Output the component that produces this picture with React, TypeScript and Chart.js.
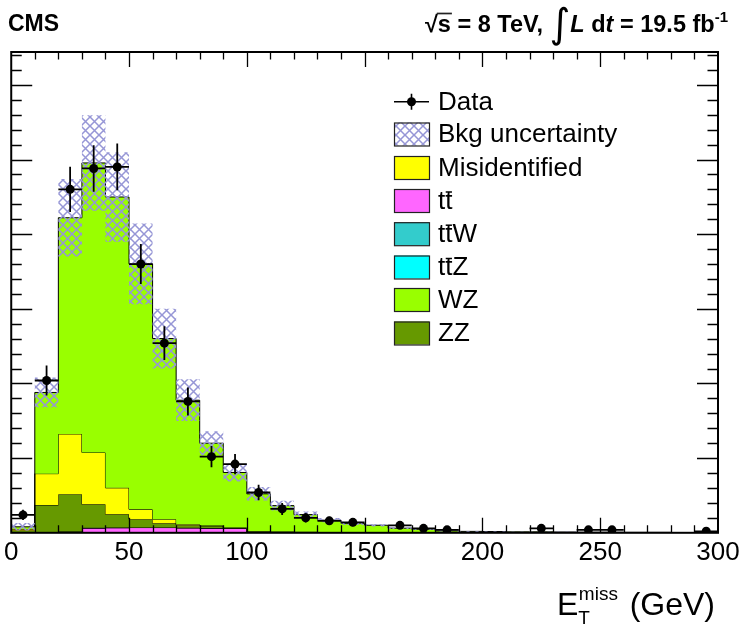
import React, { useEffect, useRef } from 'react';
import { Chart, registerables } from 'chart.js';

Chart.register(...registerables);

// ---- data (Events / 10 GeV) ----
const binLow = [0, 10, 20, 30, 40, 50, 60, 70, 80, 90, 100, 110, 120, 130, 140, 150, 160, 170, 180, 190, 200, 210, 220, 230, 240, 250, 260, 270, 280, 290];
const binWidth = 10;
const xTickLabels = [0, 50, 100, 150, 200, 250, 300];

const dataCounts = [12, 102, 230, 244, 245, 180, 127, 88, 51, 46, 27, 16, 10, 8, 7, 0, 5, 3, 2, 0, 0, 0, 3, 0, 2, 2, 0, 0, 0, 1];

const ttbar = [0, 0, 0.8, 3.2, 3.4, 3.5, 3.5, 3.3, 3.1, 3.0, 0.3, 0.2, 0.2, 0.1, 0.1, 0.1, 0.1, 0, 0, 0, 0, 0, 0, 0, 0, 0, 0, 0, 0, 0];
const ttW = [0, 0.05, 0.05, 0.05, 0.05, 0.05, 0.05, 0.05, 0.05, 0.05, 0.05, 0.05, 0.05, 0.05, 0.05, 0, 0, 0, 0, 0, 0, 0, 0, 0, 0, 0, 0, 0, 0, 0];
const ttZ = [0, 0.05, 0.05, 0.05, 0.05, 0.05, 0.05, 0.05, 0.05, 0.05, 0.05, 0.05, 0.05, 0, 0, 0, 0, 0, 0, 0, 0, 0, 0, 0, 0, 0, 0, 0, 0, 0];
const zz = [1.5, 18.5, 25.0, 15.8, 8.9, 5.5, 2.8, 1.7, 1.4, 0.2, 0.5, 0.4, 0.3, 0.2, 0.2, 0.15, 0.1, 0.1, 0.05, 0.05, 0.05, 0.03, 0.03, 0.02, 0.02, 0.02, 0.01, 0.01, 0.01, 0.01];
const misid = [1.0, 21.0, 40.3, 34.7, 17.7, 6.6, 2.7, 0.7, 0.3, 0.2, 0.2, 0.1, 0.1, 0.1, 0, 0, 0, 0, 0, 0, 0, 0, 0, 0, 0, 0, 0, 0, 0, 0];
const wz = [1.5, 54.4, 144.8, 193.9, 194.8, 164.4, 121.0, 83.0, 55.1, 36.9, 25.0, 17.4, 11.5, 8.0, 6.0, 4.8, 2.9, 2.3, 1.2, 0.9, 0.8, 0.6, 0.6, 0.5, 0.4, 0.4, 0.3, 0.3, 0.2, 0.2];
const bkgUnc = [2.5, 10, 26, 32, 30, 27, 20, 14, 8, 6, 4.5, 3.2, 2.0, 1.4, 1.1, 0.9, 0.6, 0.5, 0.3, 0.2, 0.2, 0.15, 0.15, 0.1, 0.1, 0.1, 0.1, 0.1, 0.05, 0.05];

const colors = {
  misid: '#ffff00',
  ttbar: '#ff66ff',
  ttW: '#33cccc',
  ttZ: '#00ffff',
  wz: '#99ff00',
  zz: '#669900',
  hatch: '#9696d6',
};

const FONT = '"Liberation Sans", Arial, Helvetica, sans-serif';

const addArr = (a: number[], b: number[]) => a.map((v, i) => v + b[i]);
const stepPoints = (vals: number[]) => [
  ...binLow.map((x, i) => ({ x, y: vals[i] })),
  { x: binLow[binLow.length - 1] + binWidth, y: vals[vals.length - 1] },
];

export default function App() {
  const ref = useRef<HTMLCanvasElement>(null);

  useEffect(() => {
    const canvas = ref.current!;
    const ctx0 = canvas.getContext('2d')!;

    // hatch pattern
    const P = 9;
    const pc = document.createElement('canvas');
    pc.width = P;
    pc.height = P;
    const p = pc.getContext('2d')!;
    p.strokeStyle = colors.hatch;
    p.lineWidth = 1.5;
    p.beginPath();
    p.moveTo(-1, -1); p.lineTo(P + 1, P + 1);
    p.moveTo(P + 1, -1); p.lineTo(-1, P + 1);
    p.stroke();
    const pattern = ctx0.createPattern(pc, 'repeat')!;

    const c1 = ttbar;
    const c2 = addArr(c1, ttW);
    const c3 = addArr(c2, ttZ);
    const c4 = addArr(c3, zz);
    const c5 = addArr(c4, misid);
    const total = addArr(c5, wz);
    const uncLo = total.map((v, i) => Math.max(0, v - bkgUnc[i]));
    const uncHi = total.map((v, i) => v + bkgUnc[i]);

    const hist = (label: string, vals: number[], color: any, order: number, fill: any) => ({
      type: 'line' as const,
      label,
      data: stepPoints(vals),
      stepped: 'before' as const,
      borderColor: '#000',
      borderWidth: 1,
      backgroundColor: color,
      fill,
      pointRadius: 0,
      order,
    });

    const dataPoints = binLow
      .map((x, i) => ({ x: x + binWidth / 2, y: dataCounts[i] }))
      .filter((d) => d.y > 0);

    const overlay = {
      id: 'rootStyle',
      afterDatasetsDraw(chart: any) {
        const { ctx, chartArea: a } = chart;
        const xs = chart.scales.x;
        const ys = chart.scales.y;
        ctx.save();
        ctx.beginPath();
        ctx.rect(a.left, a.top, a.right - a.left, a.bottom - a.top);
        ctx.clip();
        ctx.strokeStyle = '#000';
        ctx.lineWidth = 1.8;
        dataCounts.forEach((n, i) => {
          if (!n) return;
          const e = Math.sqrt(n);
          const xc = xs.getPixelForValue(binLow[i] + binWidth / 2);
          const y = ys.getPixelForValue(n);
          ctx.beginPath();
          ctx.moveTo(xc, ys.getPixelForValue(n + e));
          ctx.lineTo(xc, ys.getPixelForValue(Math.max(0, n - e)));
          ctx.moveTo(xs.getPixelForValue(binLow[i]), y);
          ctx.lineTo(xs.getPixelForValue(binLow[i] + binWidth), y);
          ctx.stroke();
        });
        ctx.restore();
      },
      afterDraw(chart: any) {
        const { ctx, chartArea: a } = chart;
        const xs = chart.scales.x;
        const ys = chart.scales.y;
        ctx.save();
        // ticks
        ctx.strokeStyle = '#000';
        ctx.lineWidth = 1.3;
        ctx.beginPath();
        for (let v = 10; v < 300; v += 10) {
          const x = Math.round(xs.getPixelForValue(v)) + 0.5;
          const len = v % 50 === 0 ? 15 : 7.5;
          ctx.moveTo(x, a.bottom); ctx.lineTo(x, a.bottom - len);
          ctx.moveTo(x, a.top); ctx.lineTo(x, a.top + len);
        }
        for (let v = 10; v <= 320; v += 10) {
          const y = Math.round(ys.getPixelForValue(v)) + 0.5;
          const len = v % 50 === 0 ? 21 : 10.5;
          ctx.moveTo(a.left, y); ctx.lineTo(a.left + len, y);
          ctx.moveTo(a.right, y); ctx.lineTo(a.right - len, y);
        }
        ctx.stroke();
        // frame
        ctx.lineWidth = 2;
        ctx.strokeRect(a.left, a.top, a.right - a.left, a.bottom - a.top);

        // legend
        const lx0 = 394, lx1 = 429, tx = 438;
        const rows = [101.7, 134, 167.5, 200.5, 233.7, 267, 299.5, 333];
        ctx.font = `26px ${FONT}`;
        ctx.textBaseline = 'middle';
        ctx.textAlign = 'left';
        ctx.fillStyle = '#000';
        // Data
        ctx.lineWidth = 1.6;
        ctx.beginPath();
        ctx.moveTo(lx0, rows[0]); ctx.lineTo(lx1, rows[0]);
        ctx.moveTo((lx0 + lx1) / 2, rows[0] - 8); ctx.lineTo((lx0 + lx1) / 2, rows[0] + 8);
        ctx.stroke();
        ctx.beginPath();
        ctx.arc((lx0 + lx1) / 2, rows[0], 4.5, 0, Math.PI * 2);
        ctx.fill();
        ctx.fillText('Data', tx, rows[0] + 1);
        const boxes: [number, any, string][] = [
          [rows[1], null, 'Bkg uncertainty'],
          [rows[2], colors.misid, 'Misidentified'],
          [rows[3], colors.ttbar, 'TT'],
          [rows[4], colors.ttW, 'TTW'],
          [rows[5], colors.ttZ, 'TTZ'],
          [rows[6], colors.wz, 'WZ'],
          [rows[7], colors.zz, 'ZZ'],
        ];
        boxes.forEach(([y, col, label]) => {
          const bx = lx0, by = y - 11.5, bw = lx1 - lx0, bh = 23;
          if (col) {
            ctx.fillStyle = col;
            ctx.fillRect(bx, by, bw, bh);
          } else {
            ctx.fillStyle = '#fff';
            ctx.fillRect(bx, by, bw, bh);
            ctx.fillStyle = pattern;
            ctx.fillRect(bx, by, bw, bh);
          }
          ctx.strokeStyle = '#222';
          ctx.lineWidth = 1.2;
          ctx.strokeRect(bx + 0.5, by + 0.5, bw, bh);
          ctx.fillStyle = '#000';
          if (label.startsWith('TT')) {
            const tw = ctx.measureText('t').width;
            ctx.fillText('t', tx, y + 1);
            ctx.fillText('t', tx + tw, y + 1);
            ctx.strokeStyle = '#000';
            ctx.lineWidth = 1.5;
            ctx.beginPath();
            ctx.moveTo(tx + tw + 0.5, y - 8.5);
            ctx.lineTo(tx + 2 * tw - 0.5, y - 8.5);
            ctx.stroke();
            const rest = label.slice(2);
            if (rest) ctx.fillText(rest, tx + 2 * tw, y + 1);
          } else {
            ctx.fillText(label, tx, y + 1);
          }
        });

        // header
        ctx.textBaseline = 'alphabetic';
        ctx.fillStyle = '#000';
        ctx.font = `bold 23px ${FONT}`;
        ctx.fillText('CMS', 8, 31);

        const hs = 23.5;
        const fb = `bold ${hs}px ${FONT}`;
        const fbi = `italic bold ${hs}px ${FONT}`;
        const fsup = `bold ${Math.round(hs * 0.65)}px ${FONT}`;
        const fint = `${Math.round(hs * 1.7)}px "DejaVu Sans", ${FONT}`;
        const segs: [string, string, number][] = [
          ['√', fb, 0],
          ['s = 8 TeV, ', fb, 0],
          ['∫', fint, 5],
          ['L', fbi, 0],
          [' d', fb, 0],
          ['t', fbi, 0],
          [' = 19.5 fb', fb, 0],
          ['-1', fsup, -10],
        ];
        let width = 0;
        const ws = segs.map(([t, f]) => { ctx.font = f; const w = ctx.measureText(t).width; width += w; return w; });
        let x = 728 - width;
        const base = 32;
        segs.forEach(([t, f, dy], i) => {
          ctx.font = f;
          ctx.fillText(t, x, base + dy);
          if (i === 1) {
            const sw = ctx.measureText('s').width;
            ctx.lineWidth = 1.7;
            ctx.beginPath();
            ctx.moveTo(x - 1, base - 18.5);
            ctx.lineTo(x + sw + 1, base - 18.5);
            ctx.stroke();
          }
          x += ws[i];
        });

        // x axis title E_T^miss (GeV)
        const ft = `32px ${FONT}`;
        const fs = `19px ${FONT}`;
        ctx.font = ft;
        ctx.fillText('E', 557, 615);
        const ew = ctx.measureText('E').width;
        ctx.font = fs;
        ctx.fillText('T', 557 + ew, 624);
        ctx.fillText('miss', 557 + ew + 0.5, 600);
        ctx.font = ft;
        ctx.textAlign = 'right';
        ctx.fillText('(GeV)', 715, 615);
        ctx.restore();
      },
    };

    const chart = new Chart(canvas, {
      type: 'line',
      data: {
        datasets: [
          hist('tt', c1, colors.ttbar, 10, 'origin'),
          hist('ttW', c2, colors.ttW, 9, '-1'),
          hist('ttZ', c3, colors.ttZ, 8, '-1'),
          hist('ZZ', c4, colors.zz, 7, '-1'),
          hist('Misidentified', c5, colors.misid, 6, '-1'),
          hist('WZ', total, colors.wz, 5, '-1'),
          {
            type: 'line', label: 'uncLo', data: stepPoints(uncLo), stepped: 'before',
            borderWidth: 0, borderColor: 'rgba(0,0,0,0)', pointRadius: 0, fill: false, order: 4,
          },
          {
            type: 'line', label: 'Bkg uncertainty', data: stepPoints(uncHi), stepped: 'before',
            borderWidth: 0, borderColor: 'rgba(0,0,0,0)', backgroundColor: pattern, pointRadius: 0, fill: '-1', order: 3,
          },
          {
            type: 'line', label: 'Data', data: dataPoints, showLine: false,
            pointRadius: 4.5, pointBackgroundColor: '#000', pointBorderColor: '#000', pointBorderWidth: 0, order: 1,
          },
        ] as any,
      },
      options: {
        responsive: false,
        animation: false,
        devicePixelRatio: 1,
        layout: { padding: { left: 8, top: 52, right: 26, bottom: 52 } },
        plugins: {
          legend: { display: false },
          tooltip: { enabled: false },
          title: { display: false },
        },
        scales: {
          x: {
            type: 'linear',
            min: 0,
            max: 300,
            grid: { display: false, drawTicks: false },
            border: { display: false },
            afterBuildTicks: (scale: any) => {
              scale.ticks = xTickLabels.map((v) => ({ value: v }));
            },
            ticks: {
              padding: 4,
              color: '#000',
              autoSkip: false,
              maxRotation: 0,
              font: { family: FONT, size: 26 },
            },
          },
          y: { type: 'linear', min: 0, max: 322, display: false },
        },
      } as any,
      plugins: [overlay],
    });
    return () => chart.destroy();
  }, []);

  return (
    <div style={{ position: 'fixed', left: 0, top: 0, width: 744, height: 624, background: '#fff' }}>
      <canvas ref={ref} width={744} height={624} style={{ display: 'block', width: 744, height: 624 }} />
    </div>
  );
}
